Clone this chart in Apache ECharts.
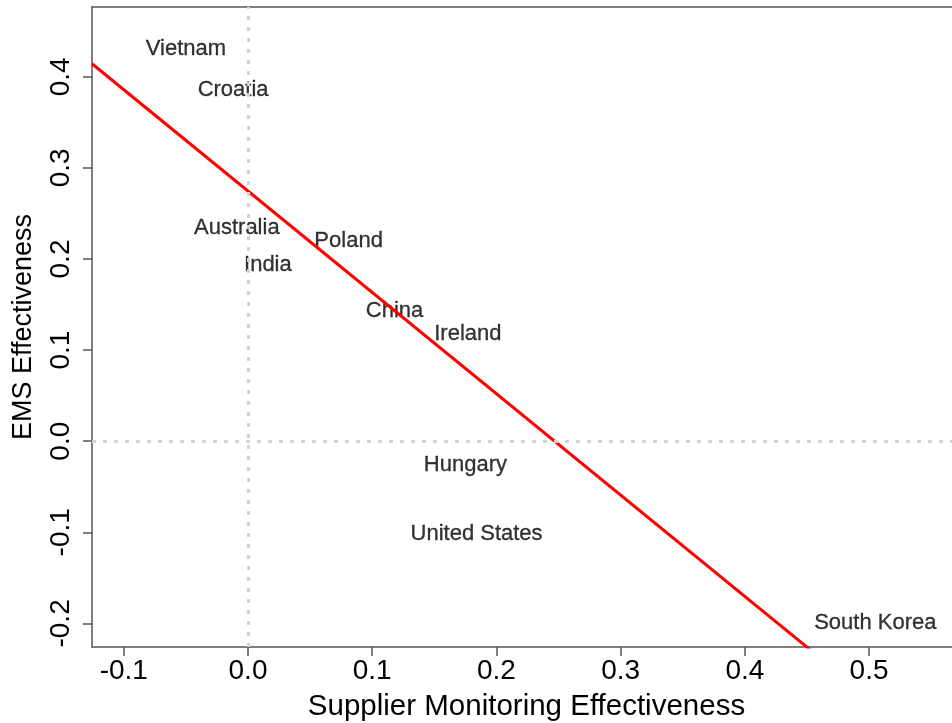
<!DOCTYPE html>
<html>
<head>
<meta charset="utf-8">
<title>EMS vs Supplier Monitoring Effectiveness</title>
<script src="https://cdn.jsdelivr.net/npm/echarts@6/dist/echarts.min.js"></script>
<style>
  html, body { margin: 0; padding: 0; background: #fff; }
  #chart { width: 952px; height: 723px; }
</style>
</head>
<body>
<div id="chart"></div>
<script>
// Country estimates: supplier monitoring effect (x) and EMS effect (y)
const countries = ['Vietnam', 'Croatia', 'Australia', 'India', 'Poland', 'China', 'Ireland', 'Hungary', 'United States', 'South Korea'];
const supplierEffect = [-0.050, -0.012, -0.009, 0.016, 0.081, 0.118, 0.177, 0.175, 0.184, 0.505];
const emsEffect = [0.431, 0.386, 0.234, 0.194, 0.220, 0.143, 0.118, -0.026, -0.102, -0.200];

// Fitted regression line: ems = intercept + slope * supplier
const fitIntercept = 0.2746;
const fitSlope = -1.1125;

// Axis ranges and tick labels
const xRange = [-0.1256, 0.574];
const yRange = [-0.2259, 0.4766];
const xTicks = [-0.1, 0.0, 0.1, 0.2, 0.3, 0.4, 0.5];
const yTicks = [-0.2, -0.1, 0.0, 0.1, 0.2, 0.3, 0.4];

const FONT = '"Liberation Sans", Arial, sans-serif';
const AXIS_COLOR = '#555';

const labelPoints = countries.map((c, i) => ({ name: c, value: [supplierEffect[i], emsEffect[i]] }));
const fitLine = [
  [xRange[0], fitIntercept + fitSlope * xRange[0]],
  [xRange[1], fitIntercept + fitSlope * xRange[1]]
];

const tickFmt = v => Number(v).toFixed(1);

const chart = echarts.init(document.getElementById('chart'), null, { renderer: 'canvas' });
chart.setOption({
  animation: false,
  backgroundColor: '#fff',
  grid: { left: 92, top: 7, right: -9, bottom: 76, containLabel: false, outerBoundsMode: 'none' },
  xAxis: [{
    type: 'value',
    min: xRange[0], max: xRange[1],
    name: 'Supplier Monitoring Effectiveness',
    nameLocation: 'middle',
    nameGap: 45,
    nameTextStyle: { fontFamily: FONT, fontSize: 29.5, color: '#000' },
    axisLine: { show: true, onZero: false, lineStyle: { color: AXIS_COLOR, width: 1.5 } },
    axisTick: { show: true, inside: false, length: 9, customValues: xTicks, lineStyle: { color: AXIS_COLOR, width: 1.5 } },
    axisLabel: {
      fontFamily: FONT, fontSize: 28, color: '#000', margin: 10,
      customValues: xTicks,
      formatter: tickFmt
    },
    splitLine: { show: false }
  }, {
    // top frame line
    type: 'value', position: 'top',
    min: xRange[0], max: xRange[1],
    axisLine: { show: true, onZero: false, lineStyle: { color: AXIS_COLOR, width: 1.5 } },
    axisTick: { show: false }, axisLabel: { show: false }, splitLine: { show: false }
  }],
  yAxis: {
    type: 'value',
    min: yRange[0], max: yRange[1],
    name: 'EMS Effectiveness',
    nameLocation: 'middle',
    nameGap: 55,
    nameTextStyle: { fontFamily: FONT, fontSize: 27, color: '#000' },
    axisLine: { show: true, onZero: false, lineStyle: { color: AXIS_COLOR, width: 1.5 } },
    axisTick: { show: true, inside: false, length: 9, customValues: yTicks, lineStyle: { color: AXIS_COLOR, width: 1.5 } },
    axisLabel: {
      fontFamily: FONT, fontSize: 28, color: '#000', margin: 17, rotate: 90,
      customValues: yTicks,
      formatter: tickFmt
    },
    splitLine: { show: false }
  },
  series: [
    {
      // dotted zero reference lines, drawn beneath everything else
      name: 'zero',
      type: 'line',
      data: [],
      z: 1,
      markLine: {
        silent: true,
        symbol: 'none',
        label: { show: false },
        lineStyle: { color: '#d3d3d3', type: [4, 7], width: 3 },
        data: [{ xAxis: 0 }, { yAxis: 0 }]
      }
    },
    {
      name: 'countries',
      type: 'scatter',
      data: labelPoints,
      symbolSize: 1,
      itemStyle: { color: 'rgba(0,0,0,0)' },
      label: {
        show: true,
        position: 'inside',
        formatter: p => p.name,
        fontFamily: FONT, fontSize: 22, color: '#000',
        textBorderColor: '#000', textBorderWidth: 0.3
      },
      z: 3
    },
    {
      name: 'fit',
      type: 'line',
      data: fitLine,
      symbol: 'none',
      clip: true,
      lineStyle: { color: '#ff0000', width: 3 },
      z: 4
    }
  ]
});
</script>
</body>
</html>
